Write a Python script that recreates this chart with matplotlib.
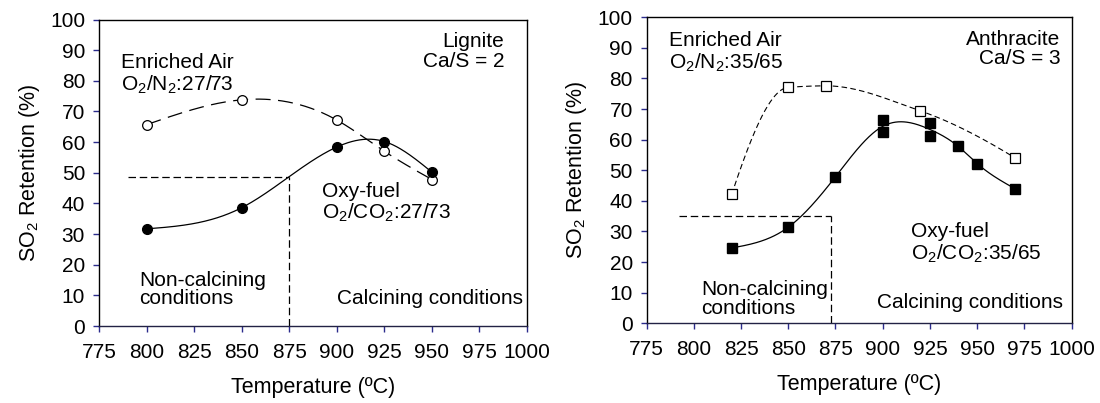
import matplotlib
matplotlib.use("Agg")
import matplotlib.pyplot as plt
import numpy as np

plt.rcParams['font.family'] = ['Liberation Sans', 'DejaVu Sans']
plt.rcParams['mathtext.fontset'] = 'custom'
plt.rcParams['mathtext.rm'] = 'Liberation Sans'

# --- data ---
# lignite, Ca/S = 2
lig_T = [800, 850, 900, 925, 950]
lig_air = [65.7, 73.8, 67.2, 57.0, 47.8]
lig_oxy = [31.7, 38.6, 58.4, 60.2, 50.2]

# anthracite, Ca/S = 3
ant_T_air = [820, 850, 870, 920, 970]
ant_air = [42.1, 77.1, 77.6, 69.4, 54.1]
ant_T_oxy = [820, 850, 875, 900, 900, 925, 925, 940, 950, 970]
ant_oxy = [24.6, 31.4, 47.9, 66.3, 62.4, 65.6, 61.1, 57.8, 52.2, 44.0]

# calcination threshold (temperature, retention) marked by dashed lines
calc_T = [875, 872.5]
calc_R = [48.6, 35.2]
calc_start = [790, 792]

xticks = [775, 800, 825, 850, 875, 900, 925, 950, 975, 1000]
yticks = list(range(0, 101, 10))
tick_col = '#2b2b8c'


def _unique_mean(x, y):
    x = np.asarray(x, float)
    y = np.asarray(y, float)
    ux = np.unique(x)
    uy = np.array([y[x == v].mean() for v in ux])
    return ux, uy


def nat_spline(x, y, n=300):
    # natural cubic spline through the points (duplicate x averaged)
    ux, uy = _unique_mean(x, y)
    h = np.diff(ux)
    m = len(ux)
    A = np.zeros((m, m))
    b = np.zeros(m)
    A[0, 0] = A[-1, -1] = 1
    for i in range(1, m - 1):
        A[i, i - 1] = h[i - 1]
        A[i, i] = 2 * (h[i - 1] + h[i])
        A[i, i + 1] = h[i]
        b[i] = 6 * ((uy[i + 1] - uy[i]) / h[i] - (uy[i] - uy[i - 1]) / h[i - 1])
    M = np.linalg.solve(A, b)
    xs = np.linspace(ux[0], ux[-1], n)
    k = np.clip(np.searchsorted(ux, xs) - 1, 0, m - 2)
    x0, x1, hk = ux[k], ux[k + 1], h[k]
    ys = (M[k] * (x1 - xs) ** 3 + M[k + 1] * (xs - x0) ** 3) / (6 * hk) \
        + (uy[k] / hk - M[k] * hk / 6) * (x1 - xs) \
        + (uy[k + 1] / hk - M[k + 1] * hk / 6) * (xs - x0)
    return xs, ys


def pchip(x, y, n=300):
    # shape preserving piecewise cubic (no overshoot)
    ux, uy = _unique_mean(x, y)
    h = np.diff(ux)
    d = np.diff(uy) / h
    m = len(ux)
    s = np.zeros(m)
    for i in range(1, m - 1):
        if d[i - 1] * d[i] > 0:
            w1 = 2 * h[i] + h[i - 1]
            w2 = h[i] + 2 * h[i - 1]
            s[i] = (w1 + w2) / (w1 / d[i - 1] + w2 / d[i])
    s[0] = ((2 * h[0] + h[1]) * d[0] - h[0] * d[1]) / (h[0] + h[1])
    if np.sign(s[0]) != np.sign(d[0]):
        s[0] = 0
    s[-1] = ((2 * h[-1] + h[-2]) * d[-1] - h[-1] * d[-2]) / (h[-1] + h[-2])
    if np.sign(s[-1]) != np.sign(d[-1]):
        s[-1] = 0
    xs = np.linspace(ux[0], ux[-1], n)
    k = np.clip(np.searchsorted(ux, xs) - 1, 0, m - 2)
    t = (xs - ux[k]) / h[k]
    h00 = 2 * t ** 3 - 3 * t ** 2 + 1
    h10 = t ** 3 - 2 * t ** 2 + t
    h01 = -2 * t ** 3 + 3 * t ** 2
    h11 = t ** 3 - t ** 2
    ys = h00 * uy[k] + h10 * h[k] * s[k] + h01 * uy[k + 1] + h11 * h[k] * s[k + 1]
    return xs, ys


fig = plt.figure(figsize=(11, 4.03), dpi=100)
ax1 = fig.add_axes([0.09, 0.191, 0.3891, 0.7606])
ax2 = fig.add_axes([0.5879, 0.1978, 0.3862, 0.7593])

fs = 15

for ax in (ax1, ax2):
    ax.set_xlim(775, 1000)
    ax.set_ylim(0, 100)
    ax.set_xticks(xticks)
    ax.set_yticks(yticks)
    ax.tick_params(direction='out', length=4, width=1, colors=tick_col,
                   labelcolor='black', labelsize=15)
    ax.tick_params(axis='x', pad=8)
    ax.tick_params(axis='y', pad=6)
    ax.set_xlabel('Temperature (ºC)', fontsize=15.5, labelpad=11)
    ax.set_ylabel('SO$_2$ Retention (%)', fontsize=15.5, labelpad=6)
    for sp in ax.spines.values():
        sp.set_linewidth(1)
        sp.set_color('black')
    ax.spines['bottom'].set_color('#222244')

# lignite panel
xs, ys = nat_spline(lig_T, lig_air)
ax1.plot(xs, ys, color='black', lw=0.9, dashes=(12, 6))
xs, ys = nat_spline(lig_T, lig_oxy)
ax1.plot(xs, ys, color='black', lw=0.9)
ax1.plot(lig_T, lig_air, 'o', ms=7, mfc='white', mec='black', mew=0.9)
ax1.plot(lig_T, lig_oxy, 'o', ms=7, mfc='black', mec='black')
ax1.plot([calc_start[0], calc_T[0]], [calc_R[0], calc_R[0]], color='black', lw=0.9, dashes=(6, 3))
ax1.plot([calc_T[0], calc_T[0]], [0, calc_R[0]], color='black', lw=0.9, dashes=(6, 3))

ax1.text(786.5, 89, 'Enriched Air\nO$_2$/N$_2$:27/73', fontsize=fs, va='top', ha='left', linespacing=1.05)
ax1.text(988, 96, 'Lignite\nCa/S = 2', fontsize=fs, va='top', ha='right', linespacing=1.05)
ax1.text(892, 47, 'Oxy-fuel\nO$_2$/CO$_2$:27/73', fontsize=fs, va='top', ha='left', linespacing=1.05)
ax1.text(796, 18, 'Non-calcining\nconditions', fontsize=fs, va='top', ha='left', linespacing=0.95)
ax1.text(900, 12, 'Calcining conditions', fontsize=fs, va='top', ha='left')

# anthracite panel
xs, ys = pchip(ant_T_air, ant_air)
ax2.plot(xs, ys, color='black', lw=0.8, dashes=(5, 3))
xs, ys = nat_spline(ant_T_oxy, ant_oxy)
ax2.plot(xs, ys, color='black', lw=0.9)
ax2.plot(ant_T_air, ant_air, 's', ms=6.8, mfc='white', mec='black', mew=0.9)
ax2.plot(ant_T_oxy, ant_oxy, 's', ms=7.2, mfc='black', mec='black')
ax2.plot([calc_start[1], calc_T[1]], [calc_R[1], calc_R[1]], color='black', lw=0.9, dashes=(6, 3))
ax2.plot([calc_T[1], calc_T[1]], [0, calc_R[1]], color='black', lw=0.9, dashes=(6, 3))

ax2.text(787, 95.5, 'Enriched Air\nO$_2$/N$_2$:35/65', fontsize=fs, va='top', ha='left', linespacing=1.05)
ax2.text(994, 96, 'Anthracite\nCa/S = 3', fontsize=fs, va='top', ha='right', linespacing=1.05)
ax2.text(915, 33, 'Oxy-fuel\nO$_2$/CO$_2$:35/65', fontsize=fs, va='top', ha='left', linespacing=1.05)
ax2.text(804, 14, 'Non-calcining\nconditions', fontsize=fs, va='top', ha='left', linespacing=0.95)
ax2.text(897, 10, 'Calcining conditions', fontsize=fs, va='top', ha='left')

fig.savefig('out.png', dpi=100)
